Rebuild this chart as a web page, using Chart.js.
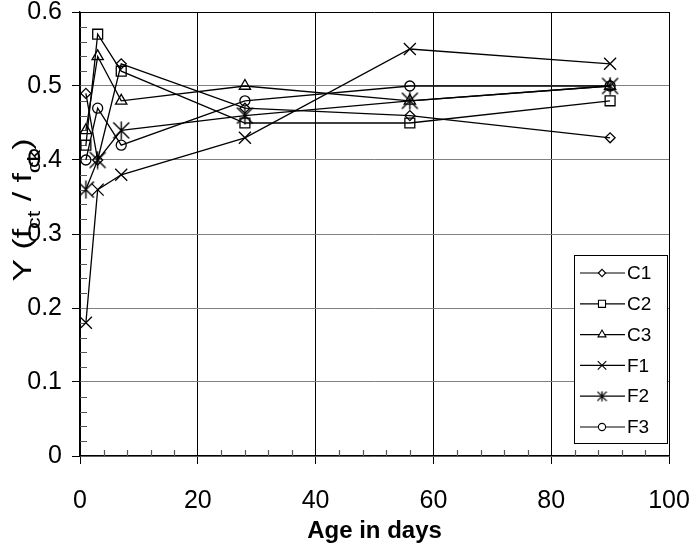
<!DOCTYPE html>
<html>
<head>
<meta charset="utf-8">
<script src="https://cdn.jsdelivr.net/npm/chart.js@4.4.1/dist/chart.umd.min.js"></script>
<style>
  body { margin: 0; background: #fff; }
  canvas { display: block; }
</style>
</head>
<body>
<canvas id="chart" width="696" height="546"></canvas>
<script>
// age of the specimens (days)
const days = [1, 3, 7, 28, 56, 90];

// ratio fct / fck per mix
const C1 = [0.49, 0.40, 0.53, 0.47, 0.46, 0.43];
const C2 = [0.42, 0.57, 0.52, 0.45, 0.45, 0.48];
const C3 = [0.44, 0.54, 0.48, 0.50, 0.48, 0.50];
const F1 = [0.18, 0.36, 0.38, 0.43, 0.55, 0.53];
const F2 = [0.36, 0.40, 0.44, 0.46, 0.48, 0.50];
const F3 = [0.40, 0.47, 0.42, 0.48, 0.50, 0.50];

const xTicks = [0, 20, 40, 60, 80, 100];
const yTicks = [0, 0.1, 0.2, 0.3, 0.4, 0.5, 0.6];

// asterisk marker (x with a vertical stroke) for F2
function asterisk(size, lw) {
  const c = document.createElement('canvas');
  c.width = size; c.height = size;
  const g = c.getContext('2d');
  const m = size / 2, a = size * 0.42;
  g.strokeStyle = '#000';
  g.lineWidth = lw;
  g.beginPath();
  g.moveTo(m - a, m - a); g.lineTo(m + a, m + a);
  g.moveTo(m + a, m - a); g.lineTo(m - a, m + a);
  g.moveTo(m, 0.5); g.lineTo(m, size - 0.5);
  g.stroke();
  return c;
}
const starBig = asterisk(19, 1.4);
const starSmall = asterisk(11, 1.3);

function pts(vals) {
  return days.map((d, i) => ({ x: d, y: vals[i] }));
}

function series(label, vals, style, radius, small) {
  return {
    label: label,
    data: pts(vals),
    borderColor: '#000',
    backgroundColor: 'rgba(0,0,0,0)',
    borderWidth: 1.3,
    pointStyle: style,
    pointRadius: radius,
    pointBorderWidth: 1.3,
    pointBorderColor: '#000',
    pointBackgroundColor: 'rgba(0,0,0,0)',
    legendRadius: small,
    tension: 0
  };
}

// no extra room for the end labels, the layout padding handles it
function noPad(s) {
  s.paddingLeft = 0; s.paddingRight = 0;
  s.paddingTop = 0; s.paddingBottom = 0;
}

// minor ticks on the inside of both axes
const minorTicks = {
  id: 'minorTicks',
  beforeDatasetsDraw(chart) {
    const { ctx, scales: { x, y } } = chart;
    ctx.save();
    ctx.strokeStyle = '#555';
    ctx.lineWidth = 1.2;
    ctx.beginPath();
    for (let v = 4; v < 100; v += 4) {
      if (v % 20 === 0) continue;
      const px = Math.round(x.getPixelForValue(v)) + 0.5;
      ctx.moveTo(px, y.bottom);
      ctx.lineTo(px, y.bottom - 6);
    }
    for (let k = 1; k < 30; k++) {
      if (k % 5 === 0) continue;
      const py = Math.round(y.getPixelForValue(k * 0.02)) + 0.5;
      ctx.moveTo(x.left, py);
      ctx.lineTo(x.left + 7, py);
    }
    ctx.stroke();
    ctx.restore();
  }
};

// legend box inside the plot, bottom right
const boxLegend = {
  id: 'boxLegend',
  afterDatasetsDraw(chart) {
    const ctx = chart.ctx;
    const bx = 574, by = 255, bw = 93, bh = 188;
    ctx.save();
    ctx.fillStyle = '#fff';
    ctx.fillRect(bx, by, bw, bh);
    ctx.strokeStyle = '#000';
    ctx.lineWidth = 1;
    ctx.strokeRect(bx + 0.5, by + 0.5, bw, bh);
    chart.data.datasets.forEach((ds, i) => {
      const cy = by + 18 + i * 30.8;
      ctx.strokeStyle = '#000';
      ctx.lineWidth = 1.2;
      ctx.beginPath();
      ctx.moveTo(bx + 6, cy);
      ctx.lineTo(bx + 51, cy);
      ctx.stroke();
      const st = ds.pointStyle === starBig ? starSmall : ds.pointStyle;
      ctx.fillStyle = '#fff';
      ctx.strokeStyle = '#000';
      ctx.lineWidth = 1.1;
      Chart.helpers.drawPoint(ctx, {
        pointStyle: st, radius: ds.legendRadius, rotation: 0, borderWidth: 1.1
      }, bx + 28, cy);
      ctx.fillStyle = '#000';
      ctx.font = '19px "Liberation Sans", Arial, sans-serif';
      ctx.textBaseline = 'middle';
      ctx.textAlign = 'left';
      ctx.fillText(ds.label, bx + 53, cy + 1);
    });
    ctx.restore();
  }
};

// rotated y title with subscripts
const yTitle = {
  id: 'yTitle',
  afterDraw(chart) {
    const ctx = chart.ctx;
    const parts = [
      ['Y (f', false], ['ct', true], [' / f', false], ['ck', true], [')', false]
    ];
    const big = '26px "Liberation Sans", Arial, sans-serif';
    const sml = '18px "Liberation Sans", Arial, sans-serif';
    const stretch = 1.3;
    ctx.save();
    let w = 0;
    parts.forEach(p => { ctx.font = p[1] ? sml : big; w += ctx.measureText(p[0]).width; });
    ctx.translate(31, 210);
    ctx.rotate(-Math.PI / 2);
    ctx.scale(stretch, 1);
    ctx.fillStyle = '#000';
    ctx.textBaseline = 'alphabetic';
    ctx.textAlign = 'left';
    let cx = -w / 2;
    parts.forEach(p => {
      ctx.font = p[1] ? sml : big;
      ctx.fillText(p[0], cx, p[1] ? 9 : 0);
      cx += ctx.measureText(p[0]).width;
    });
    ctx.restore();
  }
};

Chart.defaults.font.family = '"Liberation Sans", Arial, sans-serif';
Chart.defaults.color = '#000';

new Chart(document.getElementById('chart'), {
  type: 'line',
  data: {
    datasets: [
      series('C1', C1, 'rectRot', 5, 3.6),
      series('C2', C2, 'rect', 7, 5),
      series('C3', C3, 'triangle', 6.5, 4.6),
      series('F1', F1, 'crossRot', 8.5, 6),
      series('F2', F2, starBig, 9, 5),
      series('F3', F3, 'circle', 5, 3.6)
    ]
  },
  options: {
    responsive: false,
    animation: false,
    layout: { padding: { top: 12, right: 27, left: 0, bottom: 0 } },
    plugins: { legend: { display: false }, tooltip: { enabled: false } },
    scales: {
      x: {
        type: 'linear', min: 0, max: 100,
        afterBuildTicks: s => { s.ticks = xTicks.map(v => ({ value: v })); },
        afterFit: s => { s.height = 90; noPad(s); },
        ticks: { color: '#000', font: { size: 25 }, padding: 22 },
        grid: { color: '#000', lineWidth: 1, tickColor: '#000', tickLength: 8 },
        border: { color: '#000', width: 1.3 },
        title: {
          display: true, text: 'Age in days', color: '#000',
          font: { size: 24, weight: 'bold' }, padding: { top: 0, bottom: 0 }
        }
      },
      y: {
        min: 0, max: 0.6,
        afterBuildTicks: s => { s.ticks = yTicks.map(v => ({ value: v })); },
        afterFit: s => { s.width = 80; noPad(s); },
        ticks: { color: '#000', font: { size: 25 }, padding: 10 },
        grid: {
          color: c => (c.tick && c.tick.value >= 0.6 ? '#000' : '#808080'),
          lineWidth: 1, tickColor: '#000', tickLength: 8
        },
        border: { color: '#000', width: 1.3 }
      }
    }
  },
  plugins: [minorTicks, boxLegend, yTitle]
});
</script>
</body>
</html>
